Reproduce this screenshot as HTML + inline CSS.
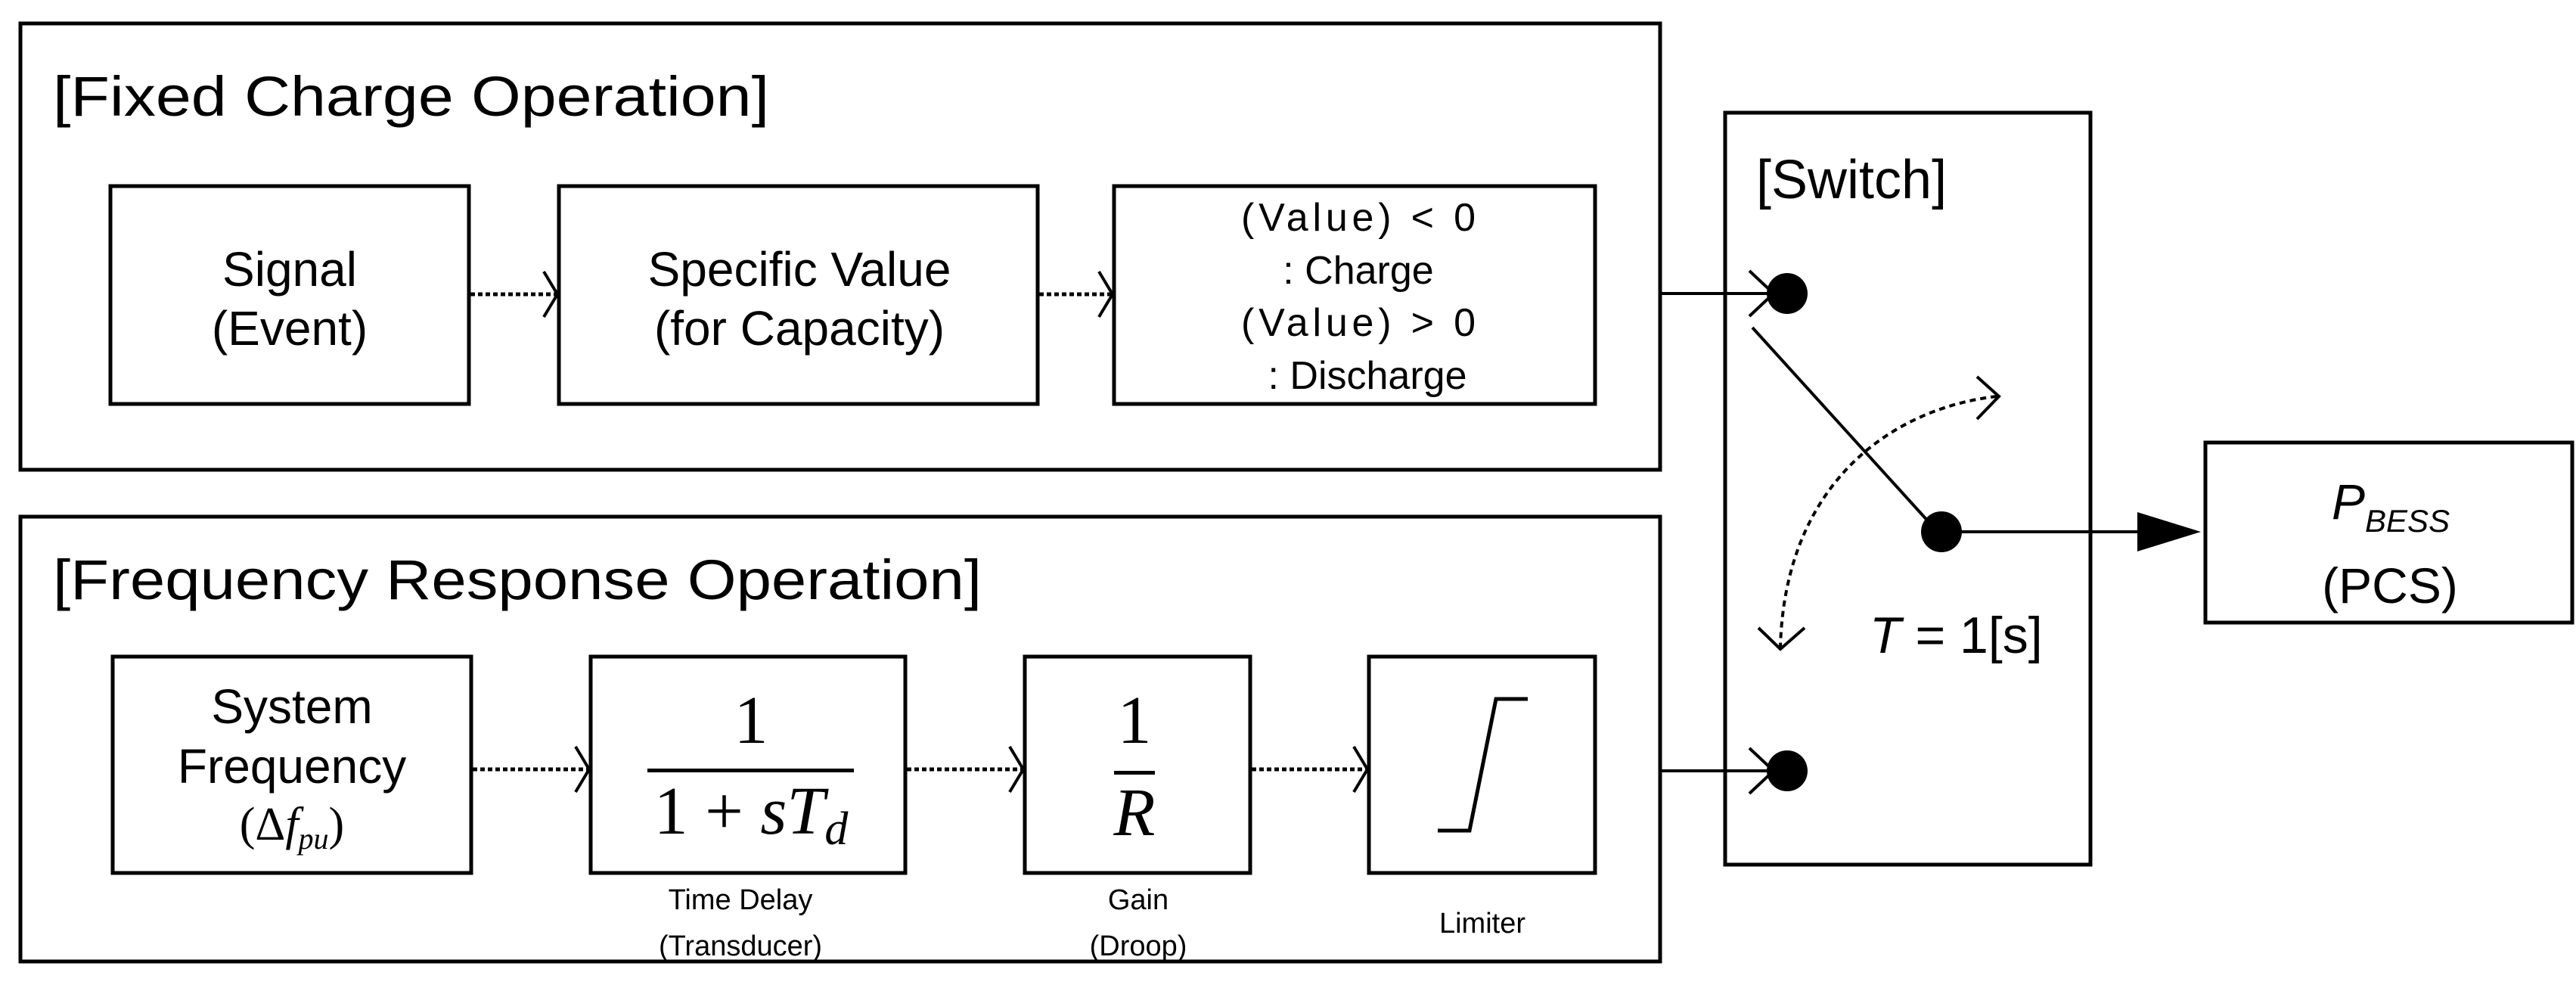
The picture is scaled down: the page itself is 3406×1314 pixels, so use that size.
<!DOCTYPE html>
<html><head><meta charset="utf-8"><style>html,body{margin:0;padding:0;background:#fff}svg{display:block}</style></head>
<body>
<svg width="3406" height="1314" viewBox="0 0 3406 1314" xmlns="http://www.w3.org/2000/svg" font-family="Liberation Sans, sans-serif">
<defs>
<marker id="ch" markerWidth="24" markerHeight="64" refX="20" refY="32" orient="auto" markerUnits="userSpaceOnUse"><path d="M2,2 L20,32 L2,62" fill="none" stroke="#000" stroke-width="4"/></marker>
</defs>
<g fill="none" stroke="#000" stroke-width="5">
<rect x="27" y="31" width="2168" height="590"/>
<rect x="27" y="683" width="2168" height="588"/>
<rect x="146" y="246" width="474" height="288"/>
<rect x="739" y="246" width="633" height="288"/>
<rect x="1473" y="246" width="636" height="288"/>
<rect x="149" y="868" width="474" height="286"/>
<rect x="781" y="868" width="416" height="286"/>
<rect x="1355" y="868" width="298" height="286"/>
<rect x="1810" y="868" width="299" height="286"/>
<rect x="2281" y="149" width="483" height="994"/>
<rect x="2916" y="585" width="485" height="238"/>
</g>
<g fill="none" stroke="#000" stroke-width="5" stroke-dasharray="6,4">
<line x1="622" y1="389" x2="737" y2="389" marker-end="url(#ch)"/>
<line x1="1374" y1="389" x2="1471" y2="389" marker-end="url(#ch)"/>
<line x1="625" y1="1017" x2="779" y2="1017" marker-end="url(#ch)"/>
<line x1="1199" y1="1017" x2="1353" y2="1017" marker-end="url(#ch)"/>
<line x1="1655" y1="1017" x2="1808" y2="1017" marker-end="url(#ch)"/>
</g>
<g fill="none" stroke="#000" stroke-width="4">
<line x1="2197" y1="388" x2="2345" y2="388"/>
<path d="M2313,358 L2345,388 L2313,418"/>
<line x1="2197" y1="1019" x2="2345" y2="1019"/>
<path d="M2313,989 L2345,1019 L2313,1049"/>
<line x1="2317" y1="433" x2="2552" y2="692"/>
<line x1="2567" y1="703" x2="2830" y2="703"/>
<path d="M2640,524 C2500,540 2360,640 2354,855" stroke-dasharray="8,6"/>
<path d="M2614,498 L2643,524 L2614,554"/>
<path d="M2325,830 L2354,858 L2386,830"/>
<path d="M1901,1098 L1943,1098 L1978,924 L2020,924" stroke-width="5"/>
</g>
<path d="M2826,677 L2910,703 L2826,729 Z" fill="#000"/>
<circle cx="2363" cy="388" r="27" fill="#000"/>
<circle cx="2363" cy="1019" r="27" fill="#000"/>
<circle cx="2567" cy="703" r="27" fill="#000"/>
<g fill="#000">
<text x="70" y="153" font-size="74" textLength="947" lengthAdjust="spacingAndGlyphs">[Fixed Charge Operation]</text>
<text x="70" y="792" font-size="74" textLength="1228" lengthAdjust="spacingAndGlyphs">[Frequency Response Operation]</text>
<g font-size="64" text-anchor="middle">
<text x="383" y="378">Signal</text>
<text x="383" y="456">(Event)</text>
<text x="1057" y="378">Specific Value</text>
<text x="1057" y="456">(for Capacity)</text>
<text x="386" y="956">System</text>
<text x="386" y="1035">Frequency</text>
</g>
<g font-size="52" text-anchor="middle">
<text x="1796" y="305" textLength="310" lengthAdjust="spacing">(Value) &lt; 0</text>
<text x="1796" y="375">: Charge</text>
<text x="1796" y="444" textLength="310" lengthAdjust="spacing">(Value) &gt; 0</text>
<text x="1808" y="514">: Discharge</text>
</g>
<text x="386" y="1110" font-size="62" text-anchor="middle" font-family="Liberation Serif, serif">(Δ<tspan font-style="italic">f</tspan><tspan font-size="40" font-style="italic" dy="12">pu</tspan><tspan dy="-12">)</tspan></text>
<g font-family="Liberation Serif, serif" font-size="90" text-anchor="middle">
<text x="993" y="982">1</text>
<text x="993" y="1102">1 + <tspan font-style="italic">sT</tspan><tspan font-style="italic" font-size="62" dy="14">d</tspan></text>
<text x="1500" y="982">1</text>
<text x="1500" y="1104" font-style="italic">R</text>
</g>
<rect x="856" y="1016" width="273" height="5"/>
<rect x="1473" y="1019" width="54" height="5"/>
<g font-size="38" text-anchor="middle">
<text x="979" y="1202">Time Delay</text>
<text x="979" y="1263">(Transducer)</text>
<text x="1505" y="1202">Gain</text>
<text x="1505" y="1263">(Droop)</text>
<text x="1960" y="1233">Limiter</text>
</g>
<text x="2322" y="262" font-size="72">[Switch]</text>
<text x="2472" y="863" font-size="68"><tspan font-style="italic">T</tspan> = 1[s]</text>
<text x="3083" y="686" font-size="66" font-style="italic">P<tspan font-size="42" dy="17">BESS</tspan></text>
<text x="3160" y="797" font-size="66" text-anchor="middle">(PCS)</text>
</g>
</svg>
</body></html>
